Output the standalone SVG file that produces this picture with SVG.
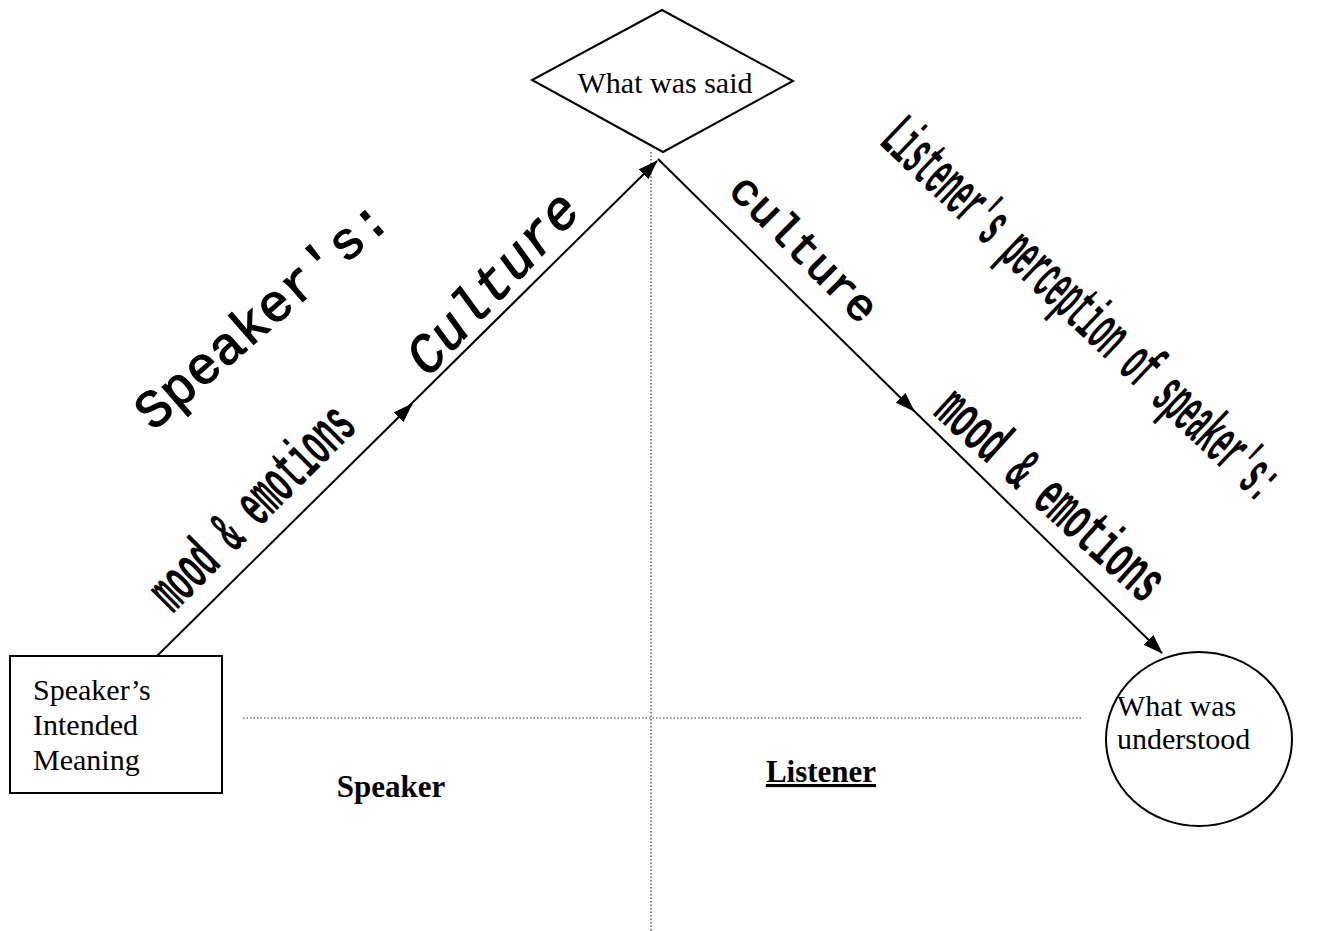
<svg xmlns="http://www.w3.org/2000/svg" width="1330" height="931" viewBox="0 0 1330 931">
<defs>
<style>
.node{fill:#fff;stroke:#000;stroke-width:2}
.lbl{font-family:"Liberation Serif",serif;font-size:30px;fill:#000}
.bold{font-family:"Liberation Serif",serif;font-size:31px;font-weight:bold;fill:#000}
.mono{font-family:"Liberation Mono",monospace;fill:#000;stroke:#000;stroke-width:1.2}
.cond{font-family:"Liberation Mono",monospace;font-weight:bold;fill:#000}
.edge{stroke:#000;stroke-width:2;fill:none}
.dot{stroke:#333;stroke-width:1.2;stroke-dasharray:1.5 2;fill:none}
</style>
<marker id="ah" markerWidth="20" markerHeight="14" refX="19" refY="7" orient="auto" markerUnits="userSpaceOnUse">
<path d="M0,0 L20,7 L0,14 Z" fill="#000"/>
</marker>
</defs>
<rect width="1330" height="931" fill="#fff"/>
<g id="dividers">
<line class="dot" x1="651" y1="152" x2="651" y2="931"/>
<line class="dot" x1="243" y1="718" x2="1083" y2="718"/>
</g>
<g id="connectors">
<line class="edge" x1="157" y1="656" x2="412" y2="404" marker-end="url(#ah)"/>
<line class="edge" x1="405" y1="410" x2="657" y2="161" marker-end="url(#ah)"/>
<line class="edge" x1="658" y1="159" x2="914" y2="411" marker-end="url(#ah)"/>
<line class="edge" x1="908" y1="405" x2="1162" y2="653" marker-end="url(#ah)"/>
</g>
<g id="node-said">
<polygon class="node" points="662,10 793,81 663,152 532,80"/>
<text class="lbl" x="665" y="93" font-size="31" text-anchor="middle">What was said</text>
</g>
<g id="node-intended">
<rect class="node" x="10" y="656" width="212" height="137"/>
<text class="lbl" x="33" y="700">Speaker’s</text>
<text class="lbl" x="33" y="735">Intended</text>
<text class="lbl" x="33" y="770">Meaning</text>
</g>
<g id="node-understood">
<ellipse class="node" cx="1199" cy="739" rx="93" ry="87"/>
<text class="lbl" x="1117" y="716" font-size="28">What was</text>
<text class="lbl" x="1117" y="749" font-size="28">understood</text>
</g>
<g id="labels">
<text class="mono" font-size="53" transform="translate(153,432) rotate(-41)">Speaker's:</text>
<text class="mono" font-size="54" font-style="italic" transform="translate(428,378) rotate(-47)">Culture</text>
<text class="mono" font-size="45" transform="translate(727,192) rotate(45)">culture</text>
<text class="cond" font-size="62" transform="translate(173,614) rotate(-45) scale(0.47,1)">mood &amp; emotions</text>
<text class="cond" font-size="62" transform="translate(932,414) rotate(42) scale(0.51,1)">mood &amp; emotions</text>
<text class="cond" font-size="64" transform="translate(878,143) rotate(43.5) scale(0.39,1)">Listener's perception of speaker's:</text>
<text class="bold" x="391" y="797" font-size="33" text-anchor="middle">Speaker</text>
<text class="bold" x="821" y="782" text-anchor="middle" text-decoration="underline">Listener</text>
</g>
</svg>
